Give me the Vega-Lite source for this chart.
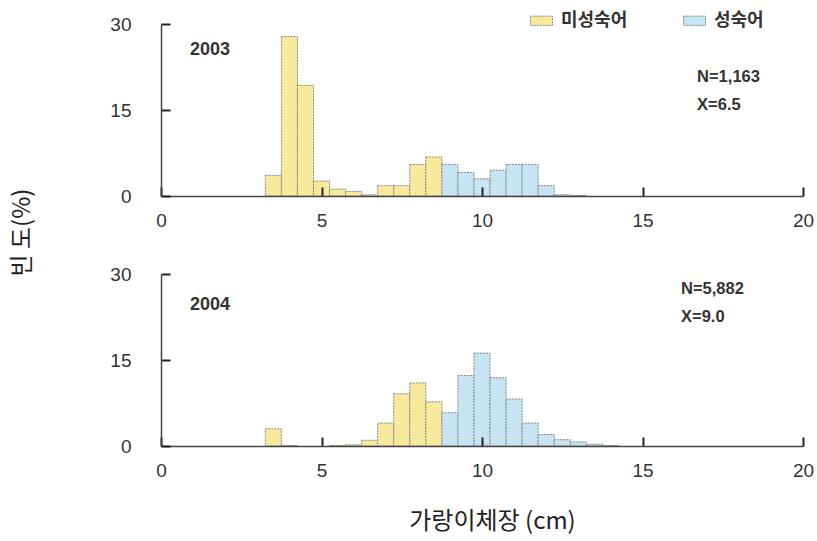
{
  "$schema": "https://vega.github.io/schema/vega-lite/v6.json",
  "padding": {"left": 10, "top": 9, "right": 0, "bottom": 5},
  "bounds": "flush",
  "spacing": 78,
  "config": {
    "view": {"stroke": null},
    "font": "Liberation Sans",
    "axis": {
      "grid": false,
      "domainColor": "#444",
      "domainWidth": 1.5,
      "ticks": true,
      "tickColor": "#222",
      "tickWidth": 2,
      "tickSize": -9,
      "labelFlush": false,
      "labelFont": "Liberation Sans",
      "labelFontSize": 19,
      "labelColor": "#333",
      "titleFont": "Noto Sans CJK KR",
      "titleFontWeight": "normal",
      "titleColor": "#222"
    },
    "legend": {
      "labelFont": "Noto Sans CJK KR",
      "labelFontSize": 18,
      "labelFontWeight": "bold",
      "labelColor": "#333"
    }
  },
  "datasets": {
    "bars": [
      {"year": 2003, "lo": 3.25, "hi": 3.75, "pct": 3.6, "group": "미성숙어"},
      {"year": 2003, "lo": 3.75, "hi": 4.25, "pct": 27.8, "group": "미성숙어"},
      {"year": 2003, "lo": 4.25, "hi": 4.75, "pct": 19.3, "group": "미성숙어"},
      {"year": 2003, "lo": 4.75, "hi": 5.25, "pct": 2.6, "group": "미성숙어"},
      {"year": 2003, "lo": 5.25, "hi": 5.75, "pct": 1.2, "group": "미성숙어"},
      {"year": 2003, "lo": 5.75, "hi": 6.25, "pct": 0.8, "group": "미성숙어"},
      {"year": 2003, "lo": 6.25, "hi": 6.75, "pct": 0.2, "group": "미성숙어"},
      {"year": 2003, "lo": 6.75, "hi": 7.25, "pct": 1.8, "group": "미성숙어"},
      {"year": 2003, "lo": 7.25, "hi": 7.75, "pct": 1.8, "group": "미성숙어"},
      {"year": 2003, "lo": 7.75, "hi": 8.25, "pct": 5.5, "group": "미성숙어"},
      {"year": 2003, "lo": 8.25, "hi": 8.75, "pct": 6.8, "group": "미성숙어"},
      {"year": 2003, "lo": 8.75, "hi": 9.25, "pct": 5.5, "group": "성숙어"},
      {"year": 2003, "lo": 9.25, "hi": 9.75, "pct": 4.1, "group": "성숙어"},
      {"year": 2003, "lo": 9.75, "hi": 10.25, "pct": 3.0, "group": "성숙어"},
      {"year": 2003, "lo": 10.25, "hi": 10.75, "pct": 4.5, "group": "성숙어"},
      {"year": 2003, "lo": 10.75, "hi": 11.25, "pct": 5.5, "group": "성숙어"},
      {"year": 2003, "lo": 11.25, "hi": 11.75, "pct": 5.5, "group": "성숙어"},
      {"year": 2003, "lo": 11.75, "hi": 12.25, "pct": 1.8, "group": "성숙어"},
      {"year": 2003, "lo": 12.25, "hi": 12.75, "pct": 0.2, "group": "성숙어"},
      {"year": 2003, "lo": 12.75, "hi": 13.25, "pct": 0.1, "group": "성숙어"},
      {"year": 2004, "lo": 3.25, "hi": 3.75, "pct": 3.0, "group": "미성숙어"},
      {"year": 2004, "lo": 3.75, "hi": 4.25, "pct": 0.1, "group": "미성숙어"},
      {"year": 2004, "lo": 5.25, "hi": 5.75, "pct": 0.1, "group": "미성숙어"},
      {"year": 2004, "lo": 5.75, "hi": 6.25, "pct": 0.2, "group": "미성숙어"},
      {"year": 2004, "lo": 6.25, "hi": 6.75, "pct": 1.0, "group": "미성숙어"},
      {"year": 2004, "lo": 6.75, "hi": 7.25, "pct": 4.0, "group": "미성숙어"},
      {"year": 2004, "lo": 7.25, "hi": 7.75, "pct": 9.1, "group": "미성숙어"},
      {"year": 2004, "lo": 7.75, "hi": 8.25, "pct": 11.0, "group": "미성숙어"},
      {"year": 2004, "lo": 8.25, "hi": 8.75, "pct": 7.7, "group": "미성숙어"},
      {"year": 2004, "lo": 8.75, "hi": 9.25, "pct": 5.8, "group": "성숙어"},
      {"year": 2004, "lo": 9.25, "hi": 9.75, "pct": 12.3, "group": "성숙어"},
      {"year": 2004, "lo": 9.75, "hi": 10.25, "pct": 16.2, "group": "성숙어"},
      {"year": 2004, "lo": 10.25, "hi": 10.75, "pct": 11.9, "group": "성숙어"},
      {"year": 2004, "lo": 10.75, "hi": 11.25, "pct": 8.2, "group": "성숙어"},
      {"year": 2004, "lo": 11.25, "hi": 11.75, "pct": 4.0, "group": "성숙어"},
      {"year": 2004, "lo": 11.75, "hi": 12.25, "pct": 2.0, "group": "성숙어"},
      {"year": 2004, "lo": 12.25, "hi": 12.75, "pct": 1.1, "group": "성숙어"},
      {"year": 2004, "lo": 12.75, "hi": 13.25, "pct": 0.7, "group": "성숙어"},
      {"year": 2004, "lo": 13.25, "hi": 13.75, "pct": 0.3, "group": "성숙어"},
      {"year": 2004, "lo": 13.75, "hi": 14.25, "pct": 0.1, "group": "성숙어"}
    ],
    "notes": [
      {"year": 2003, "x": 0.9, "y": 25.5, "label": "2003", "size": "big"},
      {"year": 2003, "x": 16.7, "y": 20.8, "label": "N=1,163", "size": "small"},
      {"year": 2003, "x": 16.7, "y": 15.8, "label": "X=6.5", "size": "small"},
      {"year": 2004, "x": 0.9, "y": 24.6, "label": "2004", "size": "big"},
      {"year": 2004, "x": 16.2, "y": 27.4, "label": "N=5,882", "size": "small"},
      {"year": 2004, "x": 16.2, "y": 22.5, "label": "X=9.0", "size": "small"}
    ]
  },
  "vconcat": [
    {
      "width": 642,
      "height": 172,
      "layer": [
        {
          "data": {"name": "bars"},
          "transform": [{"filter": "datum.year === 2003"}],
          "mark": {"type": "bar", "stroke": "#8a8a8a", "strokeWidth": 1, "strokeDash": [2, 1]},
          "encoding": {
            "x": {"field": "lo", "type": "quantitative", "scale": {"domain": [0, 20], "nice": false},
                  "axis": {"values": [0, 5, 10, 15, 20], "title": null, "labelPadding": 24, "zindex": 2}},
            "x2": {"field": "hi"},
            "y": {"field": "pct", "type": "quantitative", "scale": {"domain": [0, 30], "nice": false},
                  "axis": {"values": [0, 15, 30], "labelPadding": 39, "zindex": 2, "title": "빈 도(%)", "titleFontSize": 24,
                           "titleX": -139, "titleY": 208, "titleAngle": -90, "titleAlign": "center", "titleBaseline": "middle"}},
            "y2": {"datum": 0},
            "fill": {"field": "group", "type": "nominal",
                     "scale": {"domain": ["미성숙어", "성숙어"], "range": ["#F7EA9C", "#C6E4F1"]},
                     "legend": {"title": null, "orient": "none", "direction": "horizontal", "legendX": 369, "legendY": -15,
                                "columnPadding": 53, "labelOffset": 8,
                                "symbolType": "M-1,-0.42H1V0.42H-1Z", "symbolSize": 484,
                                "symbolStrokeColor": "#8a8a8a", "symbolStrokeWidth": 1, "symbolDash": [2, 1]}}
          }
        },
        {
          "data": {"name": "notes"},
          "transform": [{"filter": "datum.year === 2003"}],
          "mark": {"type": "text", "align": "left", "baseline": "middle", "fontWeight": "bold", "color": "#333"},
          "encoding": {
            "x": {"field": "x", "type": "quantitative"},
            "y": {"field": "y", "type": "quantitative"},
            "text": {"field": "label"},
            "size": {"field": "size", "type": "nominal", "scale": {"domain": ["big", "small"], "range": [18, 16.5]}, "legend": null}
          }
        }
      ]
    },
    {
      "width": 642,
      "height": 172,
      "layer": [
        {
          "data": {"name": "bars"},
          "transform": [{"filter": "datum.year === 2004"}],
          "mark": {"type": "bar", "stroke": "#8a8a8a", "strokeWidth": 1, "strokeDash": [2, 1]},
          "encoding": {
            "x": {"field": "lo", "type": "quantitative", "scale": {"domain": [0, 20], "nice": false},
                  "axis": {"values": [0, 5, 10, 15, 20], "labelPadding": 24, "zindex": 2, "title": "가랑이체장 (cm)", "titleFontSize": 24,
                           "titleX": 331, "titleY": 75, "titleAlign": "center", "titleBaseline": "middle"}},
            "x2": {"field": "hi"},
            "y": {"field": "pct", "type": "quantitative", "scale": {"domain": [0, 30], "nice": false},
                  "axis": {"values": [0, 15, 30], "labelPadding": 39, "zindex": 2, "title": null}},
            "y2": {"datum": 0},
            "fill": {"field": "group", "type": "nominal",
                     "scale": {"domain": ["미성숙어", "성숙어"], "range": ["#F7EA9C", "#C6E4F1"]}}
          }
        },
        {
          "data": {"name": "notes"},
          "transform": [{"filter": "datum.year === 2004"}],
          "mark": {"type": "text", "align": "left", "baseline": "middle", "fontWeight": "bold", "color": "#333"},
          "encoding": {
            "x": {"field": "x", "type": "quantitative"},
            "y": {"field": "y", "type": "quantitative"},
            "text": {"field": "label"},
            "size": {"field": "size", "type": "nominal", "scale": {"domain": ["big", "small"], "range": [18, 16.5]}, "legend": null}
          }
        }
      ]
    }
  ]
}
